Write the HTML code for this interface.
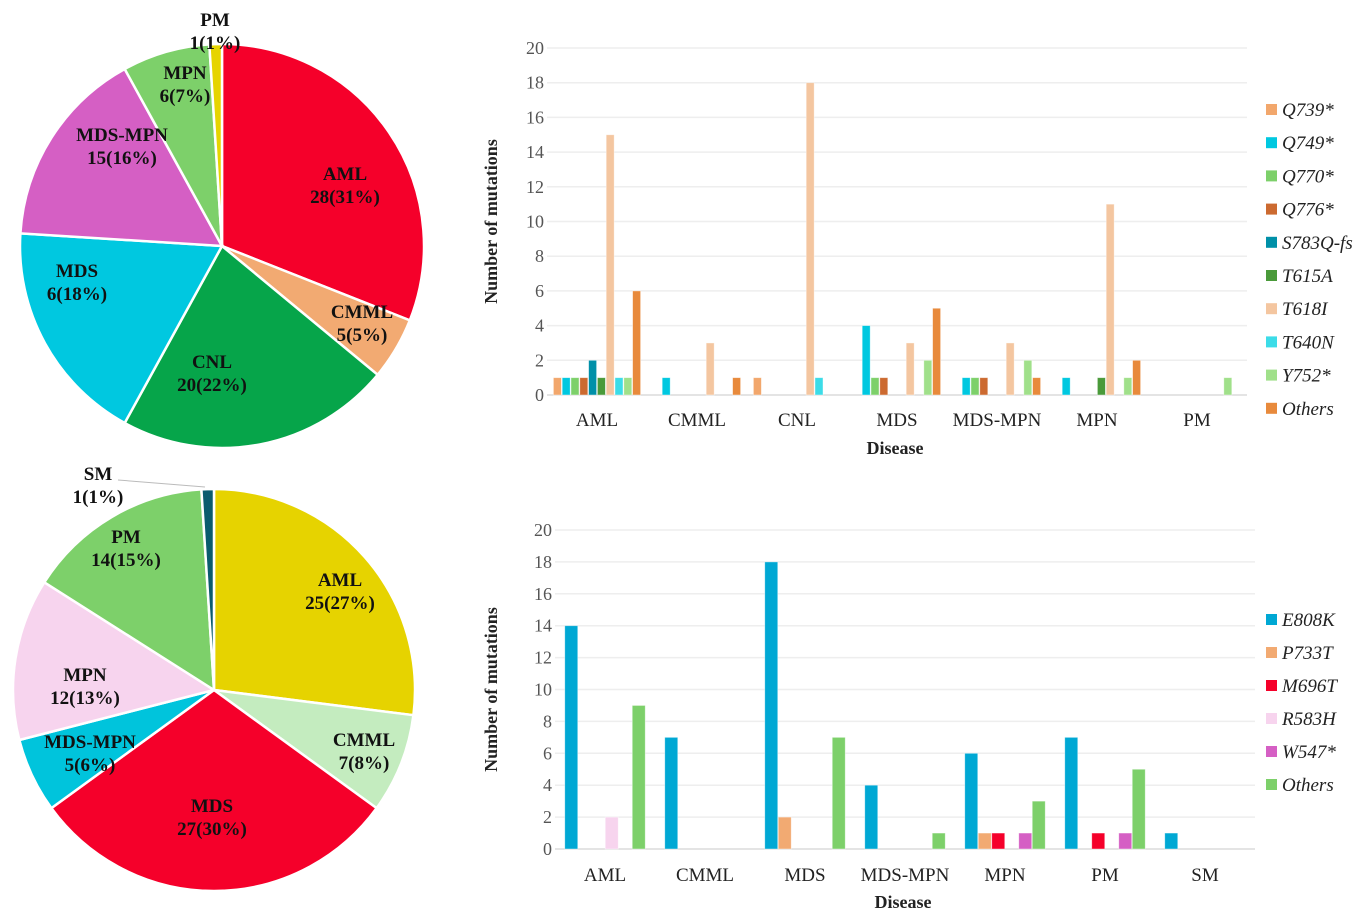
<!DOCTYPE html>
<html><head><meta charset="utf-8"><style>
html,body{margin:0;padding:0;background:#fff;}
svg{display:block;font-family:"Liberation Serif",serif;}
</style></head><body>
<svg id="root" width="1366" height="924" viewBox="0 0 1366 924" xmlns="http://www.w3.org/2000/svg">
<g id="pie1"></g>
<g id="pie2"></g>
<g id="bar1"></g>
<g id="bar2"></g>
</svg>
<script>
const NS="http://www.w3.org/2000/svg";
// Pie top data
const pie1Labels=["AML","CMML","CNL","MDS","MDS-MPN","MPN","PM"];
const pie1Counts=[28,5,20,6,15,6,1];
const pie1Pcts=[31,5,22,18,16,7,1];
// Pie bottom data
const pie2Labels=["AML","CMML","MDS","MDS-MPN","MPN","PM","SM"];
const pie2Counts=[25,7,27,5,12,14,1];
const pie2Pcts=[27,8,30,6,13,15,1];
// Bar top data
const bar1Cats=["AML","CMML","CNL","MDS","MDS-MPN","MPN","PM"];
const bar1Series=["Q739*","Q749*","Q770*","Q776*","S783Q-fs","T615A","T618I","T640N","Y752*","Others"];
const bar1Values=[
 [1,0,1,0,0,0,0],
 [1,1,0,4,1,1,0],
 [1,0,0,1,1,0,0],
 [1,0,0,1,1,0,0],
 [2,0,0,0,0,0,0],
 [1,0,0,0,0,1,0],
 [15,3,18,3,3,11,0],
 [1,0,1,0,0,0,0],
 [1,0,0,2,2,1,1],
 [6,1,0,5,1,2,0]];
const bar1Ticks=[0,2,4,6,8,10,12,14,16,18,20];
// Bar bottom data
const bar2Cats=["AML","CMML","MDS","MDS-MPN","MPN","PM","SM"];
const bar2Series=["E808K","P733T","M696T","R583H","W547*","Others"];
const bar2Values=[
 [14,7,18,4,6,7,1],
 [0,0,2,0,1,0,0],
 [0,0,0,0,1,1,0],
 [2,0,0,0,0,0,0],
 [0,0,0,0,1,1,0],
 [9,0,7,1,3,5,0]];
const bar2Ticks=[0,2,4,6,8,10,12,14,16,18,20];

function el(tag,attrs,parent,text){const e=document.createElementNS(NS,tag);for(const k in attrs)e.setAttribute(k,attrs[k]);if(text!==undefined)e.textContent=text;parent.appendChild(e);return e;}

function pie(g,cx,cy,r,labels,counts,pcts,colors,labelPos,prefix){
  const total=pcts.reduce((a,b)=>a+b,0);let a0=0;
  labels.forEach((lb,i)=>{
    const a1=a0+pcts[i]/total*2*Math.PI;
    const x0=cx+r*Math.sin(a0),y0=cy-r*Math.cos(a0),x1=cx+r*Math.sin(a1),y1=cy-r*Math.cos(a1);
    const large=(a1-a0)>Math.PI?1:0;
    const p=el("path",{d:`M${cx},${cy}L${x0},${y0}A${r},${r} 0 ${large} 1 ${x1},${y1}Z`,fill:colors[i],stroke:"#fff","stroke-width":2.5},g);
    
    
    a0=a1;
  });
  labels.forEach((lb,i)=>{
    const lp=labelPos[i];
    const t=el("text",{x:lp[0],y:lp[1],"text-anchor":"middle","font-size":19,"font-weight":"bold",fill:"#111"},g);
    
    
    el("tspan",{x:lp[0],dy:0},t,lb);
    el("tspan",{x:lp[0],dy:23},t,counts[i]+"("+pcts[i]+"%)");
  });
}
pie(document.getElementById("pie1"),222,246,202,pie1Labels,pie1Counts,pie1Pcts,
 ["#f5002a","#f2aa72","#06a54a","#00c8e0","#d55fc4","#7dd06a","#e6d400"],
 [[345,180],[362,318],[212,368],[77,277],[122,141],[185,79],[215,26]],"pie-top");
pie(document.getElementById("pie2"),214,690,201,pie2Labels,pie2Counts,pie2Pcts,
 ["#e6d300","#c4ecbf","#f5002a","#00c4dc","#f7d4ee","#7dd06a","#0a5c6e"],
 [[340,586],[364,746],[212,812],[90,748],[85,681],[126,543],[98,480]],"pie-bottom");
(function(){const g=document.getElementById("pie2");const l=el("path",{d:"M118,480L205,487",stroke:"#bbb","stroke-width":1,fill:"none"},g);})();

function bars(g,o){
  const {x0,x1,y0,y20,cats,series,values,ticks,colors,groupW,barW,prefix}=o;
  const cw=(x1-x0)/cats.length;
  const ys=v=>y0-(y0-y20)*v/20;
  ticks.forEach(t=>{
    const l=el("line",{x1:x0,x2:x1,y1:ys(t),y2:ys(t),stroke:t===0?"#dcdcdc":"#eeeeee","stroke-width":1.5},g);
    
    const tx=el("text",{x:x0-3,y:ys(t)+6,"text-anchor":"end","font-size":18,fill:"#555"},g,String(t));
    
  });
  const slot=groupW/series.length;
  cats.forEach((c,ci)=>{
    const cx=x0+cw*(ci+0.5);
    const t=el("text",{x:cx,y:o.catY,"text-anchor":"middle","font-size":19,fill:"#222"},g,c);
    
    series.forEach((s,si)=>{
      const v=values[si][ci];if(!v)return;
      const bx=cx-groupW/2+si*slot+(slot-barW)/2;
      const r=el("rect",{x:bx,y:ys(v),width:barW,height:ys(0)-ys(v),fill:colors[si],stroke:"rgba(255,255,255,0.5)","stroke-width":0.8},g);
      
    });
  });
  const xt=el("text",{x:(x0+x1)/2-2,y:o.xTitleY,"text-anchor":"middle","font-size":18,"font-weight":"bold",fill:"#222"},g,"Disease");
  
  const yc=(y0+y20)/2;
  const yt=el("text",{x:497,y:yc,"text-anchor":"middle","font-size":18,"font-weight":"bold",fill:"#222",transform:`rotate(-90 497 ${yc})`},g,"Number of mutations");
  
  series.forEach((s,si)=>{
    const ly=o.legY+si*o.legStep;
    const sq=el("rect",{x:1266,y:ly-6,width:11,height:11,fill:colors[si]},g);
    
    const lt=el("text",{x:1282,y:ly+6,"font-size":19,"font-style":"italic",fill:"#222"},g,s);
    
  });
}
bars(document.getElementById("bar1"),{x0:547,x1:1247,y0:395,y20:48,cats:bar1Cats,series:bar1Series,values:bar1Values,ticks:bar1Ticks,
 colors:["#f2a76c","#00c8e0","#7dd06a","#cc6a30","#0090a8","#4a9a3a","#f4c6a0","#3cdce8","#a0e08a","#e88a3c"],
 groupW:88,barW:8,prefix:"top-chart",catY:426,xTitleY:454,legY:110,legStep:33.2});
bars(document.getElementById("bar2"),{x0:555,x1:1255,y0:849,y20:530,cats:bar2Cats,series:bar2Series,values:bar2Values,ticks:bar2Ticks,
 colors:["#00a8d4","#f2aa72","#f5002a","#f7d4ee","#d55fc4","#7dd06a"],
 groupW:81,barW:13,prefix:"bottom-chart",catY:881,xTitleY:908,legY:620,legStep:33});
</script>
</body></html>
